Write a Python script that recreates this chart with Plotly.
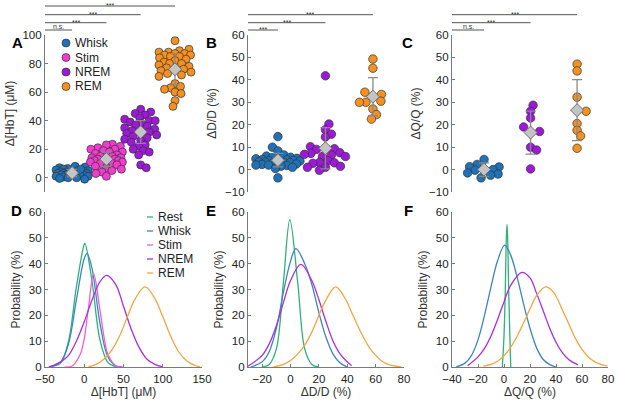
import math
import plotly.graph_objects as go

W, H = 617, 401

# ---- top row: single-trial values ----
groups_hbt = ['Whisk', 'Stim', 'NREM', 'REM']
hbt_whisk = [8, 7.5, 7, 6.5, 6, 5.5, 5, 5, 4.5, 4, 4, 3.5, 3, 3, 3, 2.5, 2, 2, 2, 1.5, 1, 1, 0.5, 0, 0, -0.5, -1, 6]
hbt_stim = [23.5, 23, 22, 21, 20, 20, 19, 18, 18, 17, 16, 15, 15, 14, 14, 13, 13, 12, 12, 11, 11, 10, 10, 9, 8, 7, 6, 5, 4, 3, 1]
hbt_nrem = [48, 46, 45, 44, 42, 41, 40, 40, 39, 38, 37, 36, 35, 34, 33, 32, 31, 30, 29, 28, 27, 26, 25, 23, 22, 20, 19, 18, 16, 9, 7]
hbt_rem = [96, 90, 89, 88, 88, 87, 87, 86, 86, 85, 85, 84, 83, 82, 81, 80, 80, 79, 78, 77, 76, 75, 74, 73, 72, 71, 66, 64, 63, 62, 60, 59, 54, 50]
hbt_mean = [3.3, 13, 32, 76]
hbt_std = [2.5, 5, 8, 11]
hbt_sig = ['n.s.', '***', '***', '***']

groups_dd = ['Whisk', 'NREM', 'REM']
dd_whisk = [14.7, 10, 8.3, 6.5, 6, 5.5, 5.3, 5, 4.8, 4.5, 4.3, 4, 4, 3.8, 3.5, 3.3, 3, 3, 2.8, 2.5, 2.3, 2, 2, 1.8, 1.5, 1, 0.5, -3.7]
dd_nrem = [41.8, 20.3, 17.8, 15.8, 14.5, 10.2, 9.3, 9, 7.5, 7.2, 6.8, 6.5, 5.8, 5.8, 4, 3.2, 3, 2.8, 1.5, 1, 1, -0.3]
dd_rem = [49.3, 45.2, 34.5, 33.5, 30.5, 30, 30, 27, 24.5, 22.5]
dd_mean = [4.2, 9.5, 32.5]
dd_std = [3, 9.2, 8.5]
dd_sig = ['***', '***', '***']

groups_qq = ['Whisk', 'NREM', 'REM']
qq_whisk = [4.5, 2.3, 1.3, 1.2, 0, -0.3, -1.5, -2, -2.5, -3.7]
qq_nrem = [28.7, 26, 23, 19, 17, 10, 8.7, 0.3]
qq_rem = [47, 44, 32.3, 26, 20.5, 17.5, 15, 9.5]
qq_mean = [0, 16.5, 26.5]
qq_std = [3, 9.6, 13.6]
qq_sig = ['n.s.', '***', '***']

# ---- bottom row: probability curves ----
d_rest_x = [-45, -40, -30, -20, -10, 0, 1, 10, 20, 30, 40, 45]
d_rest_y = [0, 0.3, 1.5, 10, 31, 47.5, 47.8, 33, 10.5, 1.8, 0.1, 0]
d_whisk_x = [-45, -40, -30, -20, -10, 0, 3.5, 10, 20, 30, 40, 48]
d_whisk_y = [0, 0.3, 2, 9, 26, 42, 44, 38, 17, 4, 0.5, 0]
d_stim_x = [-25, -15, -5, 0, 5, 12, 20, 25, 30, 40, 50]
d_stim_y = [0, 0.5, 5, 11, 22, 36, 22, 12, 5, 0.5, 0]
d_nrem_x = [-45, -40, -30, -20, -10, 0, 10, 20, 28.5, 40, 50, 60, 70, 80, 90, 100]
d_nrem_y = [0, 0.5, 2, 4.5, 10, 17.5, 26, 33, 35.5, 32, 23.5, 14.5, 7.5, 3, 1, 0]
d_rem_x = [5, 15, 25, 35, 45, 55, 65, 77.5, 90, 100, 110, 120, 130, 140, 148]
d_rem_y = [0, 1, 3, 6.5, 12, 19.5, 26.5, 31, 26.5, 19.5, 12, 6, 2.5, 0.7, 0]

e_rest_x = [-20, -15, -10, -5, -0.5, 5, 10, 15, 20]
e_rest_y = [0, 1, 7, 33, 57, 33, 7, 1, 0]
e_whisk_x = [-28, -20, -15, -10, -5, 0, 3.8, 10, 15, 20, 25, 30, 35, 40]
e_whisk_y = [0, 2, 6, 15, 29, 41, 45.8, 40, 32, 21, 11.5, 5, 1.5, 0]
e_nrem_x = [-30, -20, -15, -10, -5, 0, 7.3, 15, 20, 25, 30, 35, 40, 43]
e_nrem_y = [0.3, 4.5, 9, 16, 25, 33.5, 39.7, 33.5, 26, 17.5, 10, 5, 2, 0.5]
e_rem_x = [-12, -5, 0, 5, 10, 15, 20, 25, 31.8, 38, 44, 50, 55, 60, 65, 70, 78]
e_rem_y = [0, 1, 2.5, 5, 8.5, 13.5, 20, 26, 31, 27, 20, 13, 8, 4.5, 2, 0.8, 0]

f_rest_x = [-1.3, 0, 1, 1.8, 2.3, 2.8, 3.6, 4.5, 5.2]
f_rest_y = [0, 12, 30, 50, 55.2, 50, 30, 12, 0]
f_whisk_x = [-37, -30, -25, -20, -15, -10, -5, 0.5, 5, 10, 15, 20, 25, 30, 35, 40]
f_whisk_y = [0, 1.5, 4.5, 10.5, 20, 31, 41, 47.2, 43.5, 35, 24.5, 15, 7.5, 3, 1, 0]
f_nrem_x = [-28, -20, -15, -10, -5, 0, 5, 13.8, 20, 25, 30, 35, 40, 45, 50, 57]
f_nrem_y = [0.5, 3.9, 7.2, 12, 18.3, 25.2, 31.5, 36.6, 34.5, 28.6, 22, 15.2, 9.6, 5.5, 2.8, 0.8]
f_rem_x = [-16, -10, -5, 0, 5, 10, 15, 20, 25, 31.8, 38, 45, 50, 55, 60, 65, 70, 75, 79.5]
f_rem_y = [0.3, 1, 2.2, 4.3, 7.5, 11.8, 17, 22.5, 27.5, 31, 29, 22, 16.5, 11, 6.8, 3.8, 2, 0.9, 0.4]

curve_names = ['Rest', 'Whisk', 'Stim', 'NREM', 'REM']

dot_col = {'Whisk': '#1f72b8', 'Stim': '#f03ccf', 'NREM': '#9c19d8', 'REM': '#f6911f'}
line_col = {'Rest': '#2db37a', 'Whisk': '#3d85c0', 'Stim': '#f35fd6', 'NREM': '#ad2de6', 'REM': '#f7a540'}
AXC = '#7a7a7a'
TXT = '#222222'
FONT = 'Arial, Liberation Sans, sans-serif'

# panel boxes in pixels (left, right) and (top, bottom)
cols_px = [(45, 202), (248, 404), (452, 608)]
top_px = (35, 192)
bot_px = (212, 367)


def dom_x(c):
    return [c[0] / W, c[1] / W]


def dom_y(r):
    return [1 - r[1] / H, 1 - r[0] / H]


def swarm(vals, mean, ux, uy, d, dm, wmax):
    # greedy beeswarm in pixel space; the mean diamond is an obstacle
    placed = [(0.0, mean * uy, dm)]
    out = [0.0] * len(vals)
    n2 = int(2 * wmax)
    cands = sorted([k * 0.5 for k in range(-n2, n2 + 1)], key=lambda v: (abs(v), v))
    order = sorted(range(len(vals)), key=lambda i: abs(vals[i] - mean))
    for n, i in enumerate(order):
        y = vals[i] * uy
        c_list = cands if n % 2 else [-c for c in cands]
        pick, best = 0.0, -1e9
        for dx in c_list:
            clear = min(math.hypot(dx - px, y - py) - (d + r) / 2 for px, py, r in placed)
            if clear >= 0:
                pick = dx
                break
            if clear > best:
                best, pick = clear, dx
        placed.append((pick, y, d))
        out[i] = pick / ux
    return out


fig = go.Figure()

top_sets = [
    (groups_hbt, [hbt_whisk, hbt_stim, hbt_nrem, hbt_rem], hbt_mean, hbt_std, hbt_sig, [-10, 100]),
    (groups_dd, [dd_whisk, dd_nrem, dd_rem], dd_mean, dd_std, dd_sig, [-10, 60]),
    (groups_qq, [qq_whisk, qq_nrem, qq_rem], qq_mean, qq_std, qq_sig, [-10, 60]),
]
cat_px = [34.3, 47.5, 46.5]
cat_start = [0.21, 0.37, 0.31]
msize = [8, 8.5, 8.5]
spread = [16, 22, 17]
ytitles = ['Δ[HbT] (μM)', 'ΔD/D (%)', 'ΔQ/Q (%)']

for p, (names, data, means, stds, sigs, yr) in enumerate(top_sets):
    ax = '' if p == 0 else str(p + 1)
    ux = cat_px[p]
    uy = (top_px[1] - top_px[0]) / (yr[1] - yr[0])
    for k, (nm, vals) in enumerate(zip(names, data)):
        offs = swarm(vals, means[k], ux, uy, msize[p] - 2, 11, spread[p])
        fig.add_trace(go.Scatter(
            x=[k + 1 + o for o in offs], y=vals, mode='markers', name=nm,
            xaxis='x' + ax, yaxis='y' + ax, showlegend=False,
            marker=dict(size=msize[p], color=dot_col[nm], line=dict(color='#333333', width=0.7)),
        ))
    fig.add_trace(go.Scatter(
        x=[k + 1 for k in range(len(names))], y=means, mode='markers',
        xaxis='x' + ax, yaxis='y' + ax, showlegend=False,
        marker=dict(symbol='diamond', size=10, color='#c4c4c4', line=dict(color='#6e6e6e', width=1)),
        error_y=dict(type='data', array=stds, color='#8a8a8a', thickness=1.3, width=5),
    ))
    sig_y = [30, 22.7, 14.7, 6]
    for k, s in enumerate(sigs):
        yy = 1 - sig_y[k] / H
        fig.add_shape(type='line', xref='x' + ax, yref='paper', x0=cat_start[p], x1=k + 1,
                      y0=yy, y1=yy, line=dict(color='#555555', width=1))
        fig.add_annotation(xref='x' + ax, yref='paper', x=(cat_start[p] + k + 1) / 2, y=yy,
                           yanchor='middle', yshift=3.2 if s == 'n.s.' else 0.6, text=s, showarrow=False,
                           borderpad=0, font=dict(size=7, color='#333333', family=FONT))
    x_end = cat_start[p] + (cols_px[p][1] - cols_px[p][0]) / ux
    fig.layout['xaxis' + ax] = dict(domain=dom_x(cols_px[p]), range=[cat_start[p], x_end], anchor='y' + ax,
                                    automargin=False, showline=False, showticklabels=False, ticks='',
                                    showgrid=False, zeroline=False)
    tv = list(range(0, 101, 20)) if p == 0 else list(range(-10, 61, 10))
    fig.layout['yaxis' + ax] = dict(domain=dom_y(top_px), range=yr, anchor='x' + ax, tickvals=tv,
                                    automargin=False, showline=True, linecolor=AXC, linewidth=1.2,
                                    ticks='inside', ticklen=3, tickcolor=AXC, showgrid=False, zeroline=False,
                                    tickfont=dict(size=11.5, color=TXT),
                                    title=dict(text=ytitles[p], font=dict(size=12, color='#333333'), standoff=5))

bot_sets = [
    [('Rest', d_rest_x, d_rest_y), ('Whisk', d_whisk_x, d_whisk_y), ('Stim', d_stim_x, d_stim_y),
     ('NREM', d_nrem_x, d_nrem_y), ('REM', d_rem_x, d_rem_y)],
    [('Rest', e_rest_x, e_rest_y), ('Whisk', e_whisk_x, e_whisk_y),
     ('NREM', e_nrem_x, e_nrem_y), ('REM', e_rem_x, e_rem_y)],
    [('Rest', f_rest_x, f_rest_y), ('Whisk', f_whisk_x, f_whisk_y),
     ('NREM', f_nrem_x, f_nrem_y), ('REM', f_rem_x, f_rem_y)],
]
bx_range = [[-50, 150], [-30, 80], [-40, 80]]
bx_ticks = [list(range(-50, 151, 50)), list(range(-20, 81, 20)), list(range(-40, 81, 20))]

for p, curves in enumerate(bot_sets):
    ax = str(p + 4)
    for nm, xs, ys in curves:
        fig.add_trace(go.Scatter(
            x=xs, y=ys, mode='lines', name=nm, xaxis='x' + ax, yaxis='y' + ax, showlegend=False,
            line=dict(color=line_col[nm], width=1.3, shape='spline', smoothing=1.0),
        ))
    fig.layout['xaxis' + ax] = dict(domain=dom_x(cols_px[p]), range=bx_range[p], anchor='y' + ax,
                                    tickvals=bx_ticks[p], automargin=False, showline=True, linecolor=AXC,
                                    linewidth=1.2, ticks='inside', ticklen=3, tickcolor=AXC, showgrid=False,
                                    zeroline=False, tickfont=dict(size=11.5, color=TXT), ticklabelstandoff=1,
                                    title=dict(text=ytitles[p], font=dict(size=12, color='#333333'), standoff=3))
    fig.layout['yaxis' + ax] = dict(domain=dom_y(bot_px), range=[0, 60], anchor='x' + ax, dtick=10,
                                    automargin=False, showline=True, linecolor=AXC, linewidth=1.2,
                                    ticks='inside', ticklen=3, tickcolor=AXC, showgrid=False, zeroline=False,
                                    tickfont=dict(size=11.5, color=TXT),
                                    title=dict(text='Probability (%)', font=dict(size=12, color='#333333'),
                                               standoff=5))

# legends, laid out by hand to keep the tight MATLAB row spacing
for k, nm in enumerate(groups_hbt):
    cy = 43 + k * 14.5
    fig.add_shape(type='circle', xref='paper', yref='paper',
                  x0=(66 - 4) / W, x1=(66 + 4) / W, y0=1 - (cy + 4) / H, y1=1 - (cy - 4) / H,
                  fillcolor=dot_col[nm], line=dict(color='#333333', width=0.7))
    fig.add_annotation(xref='paper', yref='paper', x=73 / W, y=1 - cy / H, text=nm, showarrow=False,
                       xanchor='left', yanchor='middle', font=dict(size=12, color=TXT, family=FONT))
for k, nm in enumerate(curve_names):
    cy = 217 + k * 14
    fig.add_shape(type='line', xref='paper', yref='paper', x0=147 / W, x1=153 / W,
                  y0=1 - cy / H, y1=1 - cy / H, line=dict(color=line_col[nm], width=1.3))
    fig.add_annotation(xref='paper', yref='paper', x=156 / W, y=1 - cy / H, text=nm, showarrow=False,
                       xanchor='left', yanchor='middle', font=dict(size=12, color=TXT, family=FONT))

for lab, px_, py_ in [('A', 10, 32), ('B', 211, 32), ('C', 415, 32), ('D', 9, 210), ('E', 211, 210), ('F', 415, 210)]:
    fig.add_annotation(xref='paper', yref='paper', x=px_ / W, y=1 - py_ / H, text='<b>%s</b>' % lab,
                       showarrow=False, font=dict(size=15, color='black', family=FONT))

fig.update_layout(
    width=W, height=H, margin=dict(l=0, r=0, t=0, b=0),
    paper_bgcolor='white', plot_bgcolor='white',
    font=dict(family=FONT, size=12, color=TXT),
    showlegend=False,
)

# the page body has a default 8px margin; drop it so the figure sits at the window's corner
fig.write_html("out.html", config={'displayModeBar': False},
               post_script="document.body.style.margin='0';")
